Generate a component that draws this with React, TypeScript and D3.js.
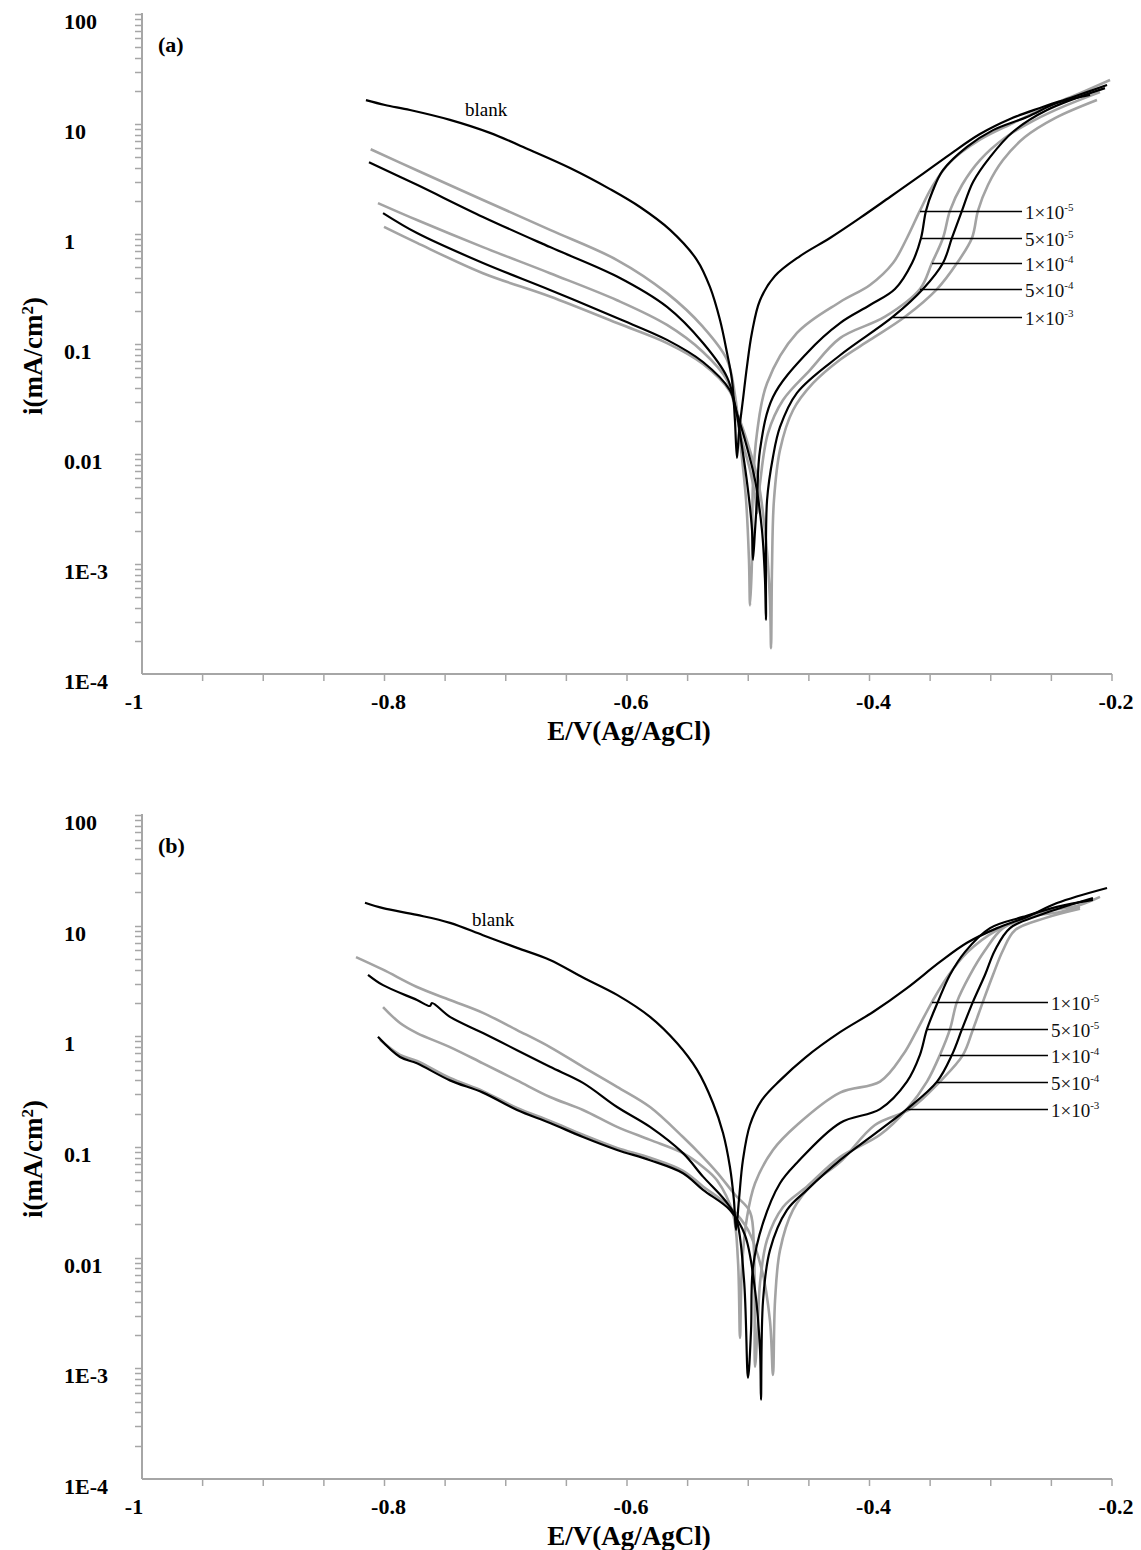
import React, { useRef, useEffect } from 'react';
import * as d3 from 'd3';

type Pt = [number, number]; // [E (V vs Ag/AgCl), i (mA/cm2)]

// axis ticks
const xTickLabels = [-1, -0.8, -0.6, -0.4, -0.2];
const yTickValues = [1e-4, 1e-3, 0.01, 0.1, 1, 10, 100];
const yTickLabels = ['1E-4', '1E-3', '0.01', '0.1', '1', '10', '100'];

// concentration labels (leader order, top to bottom)
const concMantissa = ['1', '5', '1', '5', '1'];
const concExponent = ['-5', '-5', '-4', '-4', '-3'];

// ---------- panel (a) ----------
const blankA: Pt[] = [
  [-0.8153, 16.5], [-0.7996, 14.9], [-0.779, 13.4], [-0.746, 10.9], [-0.713, 8.3], [-0.68, 5.8],
  [-0.647, 3.98], [-0.614, 2.56], [-0.5893, 1.76], [-0.5645, 1.09], [-0.5423, 0.58],
  [-0.5316, 0.33], [-0.5233, 0.165], [-0.5175, 0.083], [-0.5134, 0.047], [-0.511, 0.0204], [-0.5093, 0.0092],
  [-0.5077, 0.0155], [-0.5044, 0.031], [-0.5011, 0.062], [-0.497, 0.126], [-0.4903, 0.25],
  [-0.478, 0.415], [-0.4573, 0.63], [-0.4326, 0.92], [-0.4078, 1.4], [-0.3831, 2.17], [-0.3584, 3.37],
  [-0.3336, 5.3], [-0.3089, 8.1], [-0.2841, 11.1], [-0.2594, 14.0], [-0.2322, 17.6], [-0.2041, 22.6],
];
const a1e5: Pt[] = [
  [-0.8114, 5.9], [-0.7734, 3.8], [-0.7188, 2.04], [-0.6635, 1.09], [-0.6082, 0.58], [-0.567, 0.29],
  [-0.5373, 0.143], [-0.5175, 0.072], [-0.5109, 0.034], [-0.5068, 0.0134], [-0.5018, 0.0038],
  [-0.4994, 0.00109], [-0.4985, 0.00042], [-0.4969, 0.0011], [-0.4961, 0.0054], [-0.4928, 0.0155],
  [-0.4845, 0.044], [-0.4598, 0.126], [-0.4243, 0.241], [-0.3996, 0.344], [-0.3806, 0.545],
  [-0.3691, 0.92], [-0.3584, 1.63], [-0.3485, 2.67], [-0.3336, 4.5], [-0.3089, 7.2], [-0.2816, 10.2],
  [-0.2536, 14.3], [-0.2264, 19.1], [-0.2016, 25.1],
];
const a5e5: Pt[] = [
  [-0.8128, 4.5], [-0.7732, 2.8], [-0.7188, 1.43], [-0.6635, 0.76], [-0.6082, 0.41], [-0.567, 0.217],
  [-0.5373, 0.102], [-0.5175, 0.05], [-0.5109, 0.028], [-0.506, 0.0134], [-0.5002, 0.0047],
  [-0.4969, 0.00204], [-0.4961, 0.00109], [-0.4944, 0.00204], [-0.4928, 0.0038], [-0.4903, 0.0109],
  [-0.4796, 0.033], [-0.4515, 0.083], [-0.4243, 0.155], [-0.3996, 0.226], [-0.379, 0.316],
  [-0.3649, 0.545], [-0.3575, 0.92], [-0.3534, 1.63], [-0.3476, 2.51], [-0.3394, 3.8], [-0.3196, 6.2],
  [-0.2981, 8.8], [-0.2701, 11.6], [-0.2454, 15.5], [-0.2181, 18.4],
];
const a1e4: Pt[] = [
  [-0.8054, 1.91], [-0.7732, 1.34], [-0.7188, 0.76], [-0.6635, 0.44], [-0.6082, 0.25], [-0.567, 0.149],
  [-0.5373, 0.0846], [-0.5175, 0.047], [-0.5109, 0.026], [-0.5052, 0.0134], [-0.4986, 0.0072],
  [-0.4944, 0.0042], [-0.4928, 0.0029], [-0.4903, 0.0054], [-0.4837, 0.0155], [-0.4713, 0.031],
  [-0.4491, 0.058], [-0.4243, 0.113], [-0.3872, 0.177], [-0.3584, 0.316], [-0.3485, 0.545],
  [-0.3394, 0.92], [-0.3336, 1.63], [-0.3237, 2.79], [-0.3089, 4.7], [-0.2882, 7.5], [-0.2635, 10.9],
  [-0.2388, 14.6], [-0.2099, 19.5],
];
const a5e4: Pt[] = [
  [-0.8012, 1.55], [-0.7732, 1.02], [-0.7188, 0.545], [-0.6635, 0.31], [-0.6082, 0.172], [-0.567, 0.109],
  [-0.5373, 0.0686], [-0.5151, 0.038], [-0.5101, 0.025], [-0.5027, 0.0134], [-0.4944, 0.0058],
  [-0.4887, 0.00204], [-0.4862, 0.00072], [-0.4854, 0.00031], [-0.4845, 0.0038], [-0.4796, 0.0094],
  [-0.4738, 0.0176], [-0.4598, 0.036], [-0.4243, 0.079], [-0.3806, 0.177], [-0.3559, 0.316],
  [-0.3394, 0.545], [-0.332, 0.92], [-0.3237, 1.63], [-0.3146, 2.97], [-0.3006, 5.0], [-0.2816, 8.5],
  [-0.2536, 13.4], [-0.2058, 21.2],
];
const a1e3: Pt[] = [
  [-0.8004, 1.16], [-0.7732, 0.83], [-0.7188, 0.44], [-0.6635, 0.27], [-0.6082, 0.155], [-0.567, 0.102],
  [-0.5373, 0.0658], [-0.5151, 0.037], [-0.5093, 0.024], [-0.5027, 0.0149], [-0.492, 0.0058],
  [-0.4854, 0.00165], [-0.4821, 0.00047], [-0.4812, 0.000172], [-0.4804, 0.00094], [-0.4788, 0.0038],
  [-0.4738, 0.0109], [-0.4631, 0.025], [-0.4466, 0.044], [-0.4243, 0.072], [-0.3996, 0.109],
  [-0.3707, 0.177], [-0.3443, 0.316], [-0.3278, 0.545], [-0.3155, 0.92], [-0.3105, 1.63],
  [-0.3023, 2.79], [-0.2899, 4.7], [-0.2718, 7.6], [-0.247, 11.3], [-0.2124, 16.5],
];
const leaderStartA: Pt[] = [[-0.3584, 1.63], [-0.3575, 0.92], [-0.3485, 0.545], [-0.3584, 0.316], [-0.3806, 0.177]];
const leaderEndA = -0.2742;
const blankLabelA: Pt = [-0.7336, 11.8];

// ---------- panel (b) ----------
const blankB: Pt[] = [
  [-0.8161, 16.1], [-0.8012, 14.4], [-0.7732, 12.5], [-0.746, 10.6], [-0.7188, 8.2], [-0.6907, 6.3],
  [-0.6635, 4.9], [-0.6363, 3.4], [-0.6082, 2.37], [-0.581, 1.5], [-0.5588, 0.87], [-0.5423, 0.5],
  [-0.5291, 0.25], [-0.5208, 0.134], [-0.5151, 0.066], [-0.5118, 0.033], [-0.5101, 0.0178],
  [-0.5077, 0.033], [-0.5044, 0.076], [-0.4986, 0.158], [-0.4887, 0.266], [-0.4738, 0.4],
  [-0.4532, 0.64], [-0.4243, 1.09], [-0.3971, 1.66], [-0.3691, 2.73], [-0.3419, 4.7], [-0.3196, 7.0],
  [-0.2948, 9.5], [-0.2701, 12.0], [-0.2454, 16.0], [-0.2041, 21.9],
];
const b1e5: Pt[] = [
  [-0.8012, 1.84], [-0.7872, 1.32], [-0.7732, 1.07], [-0.746, 0.8], [-0.7188, 0.57], [-0.6907, 0.4],
  [-0.6635, 0.283], [-0.6363, 0.216], [-0.6082, 0.152], [-0.581, 0.116], [-0.5538, 0.088],
  [-0.5373, 0.066], [-0.5258, 0.05], [-0.5126, 0.025], [-0.5085, 0.0095], [-0.5068, 0.00188],
  [-0.5052, 0.0082], [-0.501, 0.0233], [-0.4944, 0.047], [-0.4796, 0.094], [-0.4598, 0.158],
  [-0.4243, 0.31], [-0.3913, 0.39], [-0.3724, 0.68], [-0.3608, 1.14], [-0.3485, 2.04], [-0.3361, 3.4],
  [-0.3196, 5.7], [-0.2948, 9.1], [-0.2594, 13.0], [-0.2264, 15.4], [-0.2099, 18.2],
];
const b5e5: Pt[] = [
  [-0.8136, 3.6], [-0.8012, 2.9], [-0.7732, 2.13], [-0.7625, 1.88], [-0.7609, 2.0], [-0.746, 1.5],
  [-0.7188, 1.07], [-0.6907, 0.75], [-0.6635, 0.53], [-0.6363, 0.38], [-0.6082, 0.23], [-0.581, 0.152],
  [-0.5538, 0.088], [-0.5373, 0.054], [-0.5192, 0.033], [-0.5101, 0.0229], [-0.5035, 0.0063],
  [-0.5002, 0.00082], [-0.4977, 0.0022], [-0.4961, 0.0082], [-0.4878, 0.0206], [-0.4738, 0.047],
  [-0.4598, 0.072], [-0.4243, 0.165], [-0.3913, 0.22], [-0.3691, 0.39], [-0.3584, 0.68],
  [-0.3526, 1.16], [-0.3435, 2.06], [-0.3336, 3.6], [-0.3212, 5.8], [-0.3006, 9.5], [-0.2734, 12.0],
  [-0.2454, 14.8], [-0.2157, 17.1],
];
const b1e4: Pt[] = [
  [-0.8235, 5.2], [-0.8012, 4.0], [-0.7732, 2.79], [-0.746, 2.13], [-0.7188, 1.63], [-0.6907, 1.14],
  [-0.6635, 0.8], [-0.6363, 0.53], [-0.6082, 0.35], [-0.581, 0.23], [-0.5538, 0.123], [-0.5373, 0.081],
  [-0.5258, 0.059], [-0.5109, 0.037], [-0.4986, 0.026], [-0.4953, 0.0117], [-0.4944, 0.00103],
  [-0.492, 0.0027], [-0.4903, 0.0059], [-0.4845, 0.0145], [-0.4713, 0.0287], [-0.4515, 0.044],
  [-0.4243, 0.081], [-0.3913, 0.129], [-0.3691, 0.22], [-0.3526, 0.39], [-0.3419, 0.68],
  [-0.3336, 1.16], [-0.3278, 2.06], [-0.3171, 3.6], [-0.3047, 6.0], [-0.2899, 9.5], [-0.2676, 12.0],
  [-0.2429, 13.3], [-0.2264, 14.8],
];
const b5e4: Pt[] = [
  [-0.8054, 0.99], [-0.7872, 0.65], [-0.7732, 0.57], [-0.746, 0.4], [-0.7188, 0.31], [-0.6907, 0.216],
  [-0.6635, 0.165], [-0.6363, 0.123], [-0.6082, 0.094], [-0.581, 0.076], [-0.5538, 0.058],
  [-0.5373, 0.041], [-0.5151, 0.027], [-0.5027, 0.016], [-0.4944, 0.0051], [-0.4903, 0.00147],
  [-0.4895, 0.00052], [-0.4878, 0.0041], [-0.4821, 0.0117], [-0.468, 0.027], [-0.4515, 0.041],
  [-0.4243, 0.076], [-0.3913, 0.143], [-0.3691, 0.22], [-0.3443, 0.39], [-0.332, 0.68], [-0.3237, 1.16],
  [-0.3146, 2.06], [-0.3047, 3.6], [-0.2965, 6.0], [-0.2841, 9.5], [-0.2594, 12.5], [-0.2157, 17.8],
];
const b1e3: Pt[] = [
  [-0.8037, 0.93], [-0.7872, 0.68], [-0.7732, 0.6], [-0.746, 0.42], [-0.7188, 0.32], [-0.6907, 0.225],
  [-0.6635, 0.172], [-0.6363, 0.129], [-0.6082, 0.098], [-0.581, 0.08], [-0.5538, 0.061],
  [-0.5373, 0.044], [-0.5151, 0.0287], [-0.5002, 0.0178], [-0.4887, 0.0077], [-0.4821, 0.0027],
  [-0.4796, 0.00087], [-0.4779, 0.0041], [-0.4738, 0.0117], [-0.4631, 0.027], [-0.4466, 0.047],
  [-0.4243, 0.073], [-0.3955, 0.158], [-0.3666, 0.22], [-0.3419, 0.39], [-0.3229, 0.68],
  [-0.3146, 1.16], [-0.3064, 2.06], [-0.2981, 3.6], [-0.2899, 6.0], [-0.28, 9.1], [-0.2553, 11.7],
  [-0.2264, 14.2],
];
const leaderStartB: Pt[] = [[-0.3485, 2.06], [-0.3526, 1.16], [-0.3419, 0.68], [-0.3443, 0.39], [-0.3691, 0.22]];
const leaderEndB = -0.2528;
const blankLabelB: Pt = [-0.7278, 9.9];

const FONT = '"Liberation Serif", "Times New Roman", serif';
const GRAY = '#a3a3a3';
const AXIS = '#a6a6a6';

const panels = [
  { tag: '(a)', top: 14, bottom: 674, blank: blankA, curves: [a1e5, a5e5, a1e4, a5e4, a1e3],
    leaders: leaderStartA, leaderEnd: leaderEndA, blankLabel: blankLabelA },
  { tag: '(b)', top: 815, bottom: 1479, blank: blankB, curves: [b1e5, b5e5, b1e4, b5e4, b1e3],
    leaders: leaderStartB, leaderEnd: leaderEndB, blankLabel: blankLabelB },
];

const App = () => {
  const ref = useRef<SVGSVGElement>(null);

  useEffect(() => {
    const svg = d3.select(ref.current);
    svg.selectAll('*').remove();

    const x = d3.scaleLinear().domain([-1, -0.2]).range([142, 1112]);
    const left = x(-1);
    const right = x(-0.2);

    panels.forEach((p) => {
      const y = d3.scaleLog().domain([1e-4, 100]).range([p.bottom, p.top]);
      const g = svg.append('g');

      // axes
      g.append('line').attr('x1', left).attr('x2', left).attr('y1', p.top - 1).attr('y2', p.bottom)
        .attr('stroke', AXIS).attr('stroke-width', 2);
      g.append('line').attr('x1', left).attr('x2', right).attr('y1', p.bottom).attr('y2', p.bottom)
        .attr('stroke', AXIS).attr('stroke-width', 2);

      // y ticks (major + minor)
      const yTicks: number[] = [];
      for (let d = -4; d < 2; d++) {
        for (let m = 1; m < 10; m++) {
          const v = m * Math.pow(10, d);
          if (v > 1.0001e-4) yTicks.push(v);
        }
      }
      yTicks.push(100);
      g.selectAll('.ytick').data(yTicks).enter().append('line')
        .attr('x1', left - 7).attr('x2', left)
        .attr('y1', (d) => Math.round(y(d)) + 0.5).attr('y2', (d) => Math.round(y(d)) + 0.5)
        .attr('stroke', AXIS).attr('stroke-width', 1.5);

      // x ticks every 0.05
      const xTicks = d3.range(1, 17).map((i) => -1 + i * 0.05);
      g.selectAll('.xtick').data(xTicks).enter().append('line')
        .attr('x1', (d) => x(d)).attr('x2', (d) => x(d))
        .attr('y1', p.bottom).attr('y2', p.bottom + 7)
        .attr('stroke', AXIS).attr('stroke-width', 1.5);

      // tick labels
      g.selectAll('.ylab').data(yTickValues).enter().append('text')
        .attr('x', 64).attr('y', (d) => y(d) + 15)
        .attr('font-family', FONT).attr('font-size', 22).attr('font-weight', 'bold')
        .text((_, i) => yTickLabels[i]);
      g.selectAll('.xlab').data(xTickLabels).enter().append('text')
        .attr('x', (d) => x(d) + (d === -1 ? -8 : 4)).attr('y', p.bottom + 35)
        .attr('text-anchor', 'middle')
        .attr('font-family', FONT).attr('font-size', 22).attr('font-weight', 'bold')
        .text((d) => String(d));

      // axis titles
      g.append('text').attr('x', 629).attr('y', p.bottom + 66).attr('text-anchor', 'middle')
        .attr('font-family', FONT).attr('font-size', 27).attr('font-weight', 'bold')
        .text('E/V(Ag/AgCl)');
      const yt = g.append('text')
        .attr('transform', `translate(42,${(p.top + p.bottom) / 2 + 12}) rotate(-90)`)
        .attr('text-anchor', 'middle')
        .attr('font-family', FONT).attr('font-size', 27).attr('font-weight', 'bold');
      yt.append('tspan').text('i(mA/cm');
      yt.append('tspan').attr('dy', -9).attr('font-size', 17).text('2');
      yt.append('tspan').attr('dy', 9).text(')');

      // panel tag
      g.append('text').attr('x', 158).attr('y', p.top + 38)
        .attr('font-family', FONT).attr('font-size', 22).attr('font-weight', 'bold')
        .text(p.tag);

      // curves
      const line = d3.line<Pt>()
        .x((d) => x(d[0]))
        .y((d) => y(d[1]))
        .curve(d3.curveCatmullRom.alpha(0.5));

      const grays = p.curves.filter((_, i) => i % 2 === 0);
      const blacks = [p.blank, ...p.curves.filter((_, i) => i % 2 === 1)];
      grays.forEach((c) => {
        g.append('path').attr('d', line(c)).attr('fill', 'none')
          .attr('stroke', GRAY).attr('stroke-width', 2.6).attr('stroke-linejoin', 'round');
      });
      blacks.forEach((c) => {
        g.append('path').attr('d', line(c)).attr('fill', 'none')
          .attr('stroke', '#000').attr('stroke-width', 2.2).attr('stroke-linejoin', 'round');
      });

      // blank label
      g.append('text').attr('x', x(p.blankLabel[0])).attr('y', y(p.blankLabel[1]))
        .attr('font-family', FONT).attr('font-size', 19).text('blank');

      // concentration leaders + labels
      p.leaders.forEach((s, i) => {
        const yy = Math.round(y(s[1])) + 0.5;
        g.append('line').attr('x1', x(s[0])).attr('x2', x(p.leaderEnd))
          .attr('y1', yy).attr('y2', yy).attr('stroke', '#000').attr('stroke-width', 1.5);
        const t = g.append('text').attr('x', x(p.leaderEnd) + 3).attr('y', yy + 7)
          .attr('font-family', FONT).attr('font-size', 19).attr('fill', '#111');
        t.append('tspan').text(`${concMantissa[i]}×10`);
        t.append('tspan').attr('dy', -8).attr('font-size', 11).text(concExponent[i]);
      });
    });
  }, []);

  return (
    <svg
      ref={ref}
      width={1141}
      height={1550}
      style={{ position: 'absolute', left: 0, top: 0, background: '#fff' }}
    />
  );
};

export default App;
